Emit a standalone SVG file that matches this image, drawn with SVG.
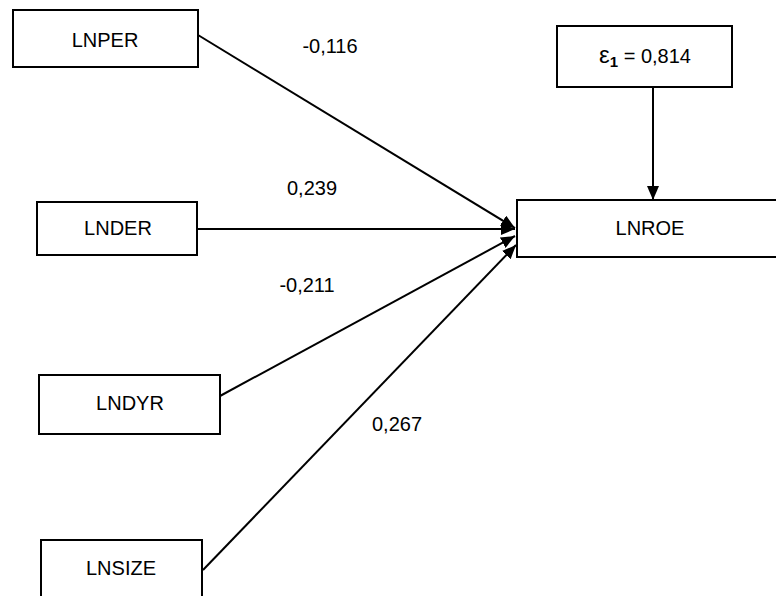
<svg xmlns="http://www.w3.org/2000/svg" width="776" height="596" viewBox="0 0 776 596">
<style>
.box{fill:#fff;stroke:#000;stroke-width:2}
.lbl{font-family:"Liberation Sans",Arial,sans-serif;font-size:20px;fill:#000;text-anchor:middle}
.edge{stroke:#000;stroke-width:2;fill:none;marker-end:url(#arr)}
</style>
<defs>
<marker id="arr" viewBox="0 0 14 12" refX="14" refY="6" markerWidth="14" markerHeight="12" markerUnits="userSpaceOnUse" orient="auto">
<path d="M0,0 L14,6 L0,12 z" fill="#000"/>
</marker>
</defs>
<rect width="776" height="596" fill="#fff"/>
<g id="connectors">
<line class="edge" x1="198" y1="35" x2="515" y2="228"/>
<line class="edge" x1="198" y1="229" x2="515" y2="229"/>
<line class="edge" x1="220" y1="396" x2="515" y2="236"/>
<line class="edge" x1="203" y1="570" x2="516" y2="245"/>
<line class="edge" x1="653" y1="87" x2="653" y2="200"/>
<text class="lbl" x="330" y="53">-0,116</text>
<text class="lbl" x="312" y="195">0,239</text>
<text class="lbl" x="307" y="292">-0,211</text>
<text class="lbl" x="397" y="431">0,267</text>
</g>
<g id="LNPER">
<rect class="box" x="13" y="10" width="185" height="57"/>
<text class="lbl" x="105" y="47">LNPER</text>
</g>
<g id="LNDER">
<rect class="box" x="37" y="202" width="160" height="53"/>
<text class="lbl" x="118" y="235">LNDER</text>
</g>
<g id="LNDYR">
<rect class="box" x="39" y="375" width="181" height="59"/>
<text class="lbl" x="130" y="410">LNDYR</text>
</g>
<g id="LNSIZE">
<rect class="box" x="41" y="540" width="161" height="70"/>
<text class="lbl" x="121" y="575">LNSIZE</text>
</g>
<g id="LNROE">
<rect class="box" x="517" y="200" width="270" height="57"/>
<text class="lbl" x="650" y="235">LNROE</text>
</g>
<g id="epsilon">
<rect class="box" x="557" y="26" width="175" height="61"/>
<text class="lbl" x="645" y="63"><tspan font-size="24">ε</tspan><tspan font-size="15" font-weight="bold" dy="4">1</tspan><tspan dy="-4"> = 0,814</tspan></text>
</g>
</svg>
